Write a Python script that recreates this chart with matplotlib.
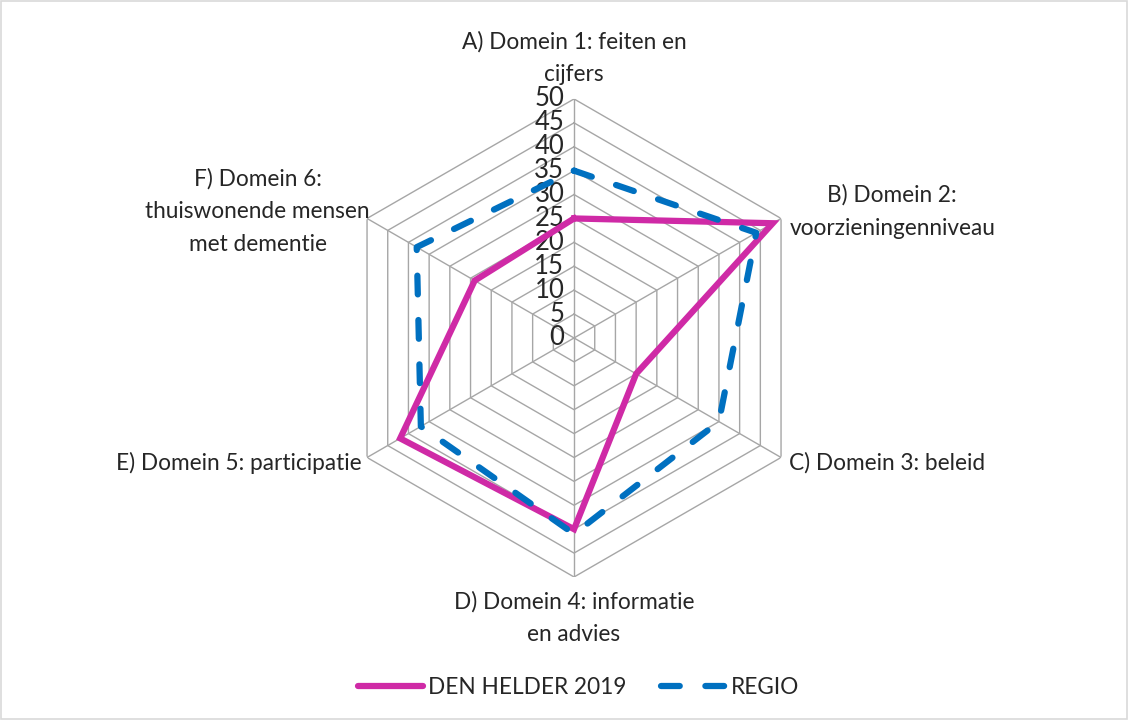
import numpy as np
import matplotlib.pyplot as plt
from matplotlib.lines import Line2D

plt.rcParams['font.family'] = ['Lato', 'DejaVu Sans']

categories = ['A) Domein 1: feiten en\ncijfers',
              'B) Domein 2:\nvoorzieningenniveau',
              'C) Domein 3: beleid',
              'D) Domein 4: informatie\nen advies',
              'E) Domein 5: participatie',
              'F) Domein 6:\nthuiswonende mensen\nmet dementie']
den_helder = [25, 48, 15, 40, 42, 24]
regio = [35, 44, 35, 41, 37, 38]
r_ticks = [0, 5, 10, 15, 20, 25, 30, 35, 40, 45, 50]
series_names = ['DEN HELDER 2019', 'REGIO']

pink = '#CF2AA6'
blue = '#0070C0'
grid_col = '#A6A6A6'
txt_col = '#262626'
fs = 16.3
dash = (0, (3, 4.1))

fig = plt.figure(figsize=(11.28, 7.2), dpi=100)
fig.patches.append(plt.Rectangle((0.001, 0.001), 0.998, 0.997, transform=fig.transFigure,
                                 fill=False, edgecolor='#D9D9D9', lw=1.2))

ax = fig.add_axes([0.297, 0.1986, 0.4238, 0.664], projection='polar')
ax.set_theta_zero_location('N')
ax.set_theta_direction(-1)
ax.set_ylim(0, 50)
ax.grid(False)
ax.set_xticks([])
ax.set_yticks([])
ax.spines['polar'].set_visible(False)
ax.patch.set_alpha(0)

n = len(categories)
angles = np.arange(n) * 2 * np.pi / n
closed = np.append(angles, angles[0])

# hexagon grid
for r in r_ticks[1:]:
    ax.plot(closed, [r] * (n + 1), color=grid_col, lw=1, zorder=1)
for a in angles:
    ax.plot([a, a], [0, 50], color=grid_col, lw=1, zorder=1)

# radial labels
for r in r_ticks:
    ax.annotate(str(r), xy=(0, r), xytext=(-7, 0), textcoords='offset points',
                ha='right', va='center', fontsize=18.5, color=txt_col, zorder=2)

ax.plot(closed, den_helder + den_helder[:1], color=pink, lw=4.5, zorder=3,
        solid_joinstyle='miter')
ax.plot(closed, regio + regio[:1], color=blue, lw=4.5, zorder=4,
        linestyle=dash, dash_capstyle='round')

# category labels
label_pos = [
    (0, 'center', 'bottom', (0, 10)),
    (1, 'left', 'center', (6, 5)),
    (2, 'left', 'center', (6, -4)),
    (3, 'center', 'top', (0, -10)),
    (4, 'right', 'center', (-4, -4)),
    (5, 'right', 'center', (2, 5)),
]
for i, ha, va, off in label_pos:
    ax.annotate(categories[i], xy=(angles[i], 50), xytext=off, textcoords='offset points',
                ha=ha, va=va, multialignment='center', fontsize=fs, color=txt_col,
                linespacing=1.68)

handles = [Line2D([], [], color=pink, lw=4.5, solid_capstyle='round'),
           Line2D([], [], color=blue, lw=4.5, linestyle=dash, dash_capstyle='round')]
fig.legend(handles, series_names, loc='center', bbox_to_anchor=(0.513, 0.045), ncol=2,
           frameon=False, fontsize=fs, handlelength=2.85, handletextpad=0.25,
           columnspacing=1.5, labelcolor=txt_col)

fig.savefig('out.png', dpi=100)
